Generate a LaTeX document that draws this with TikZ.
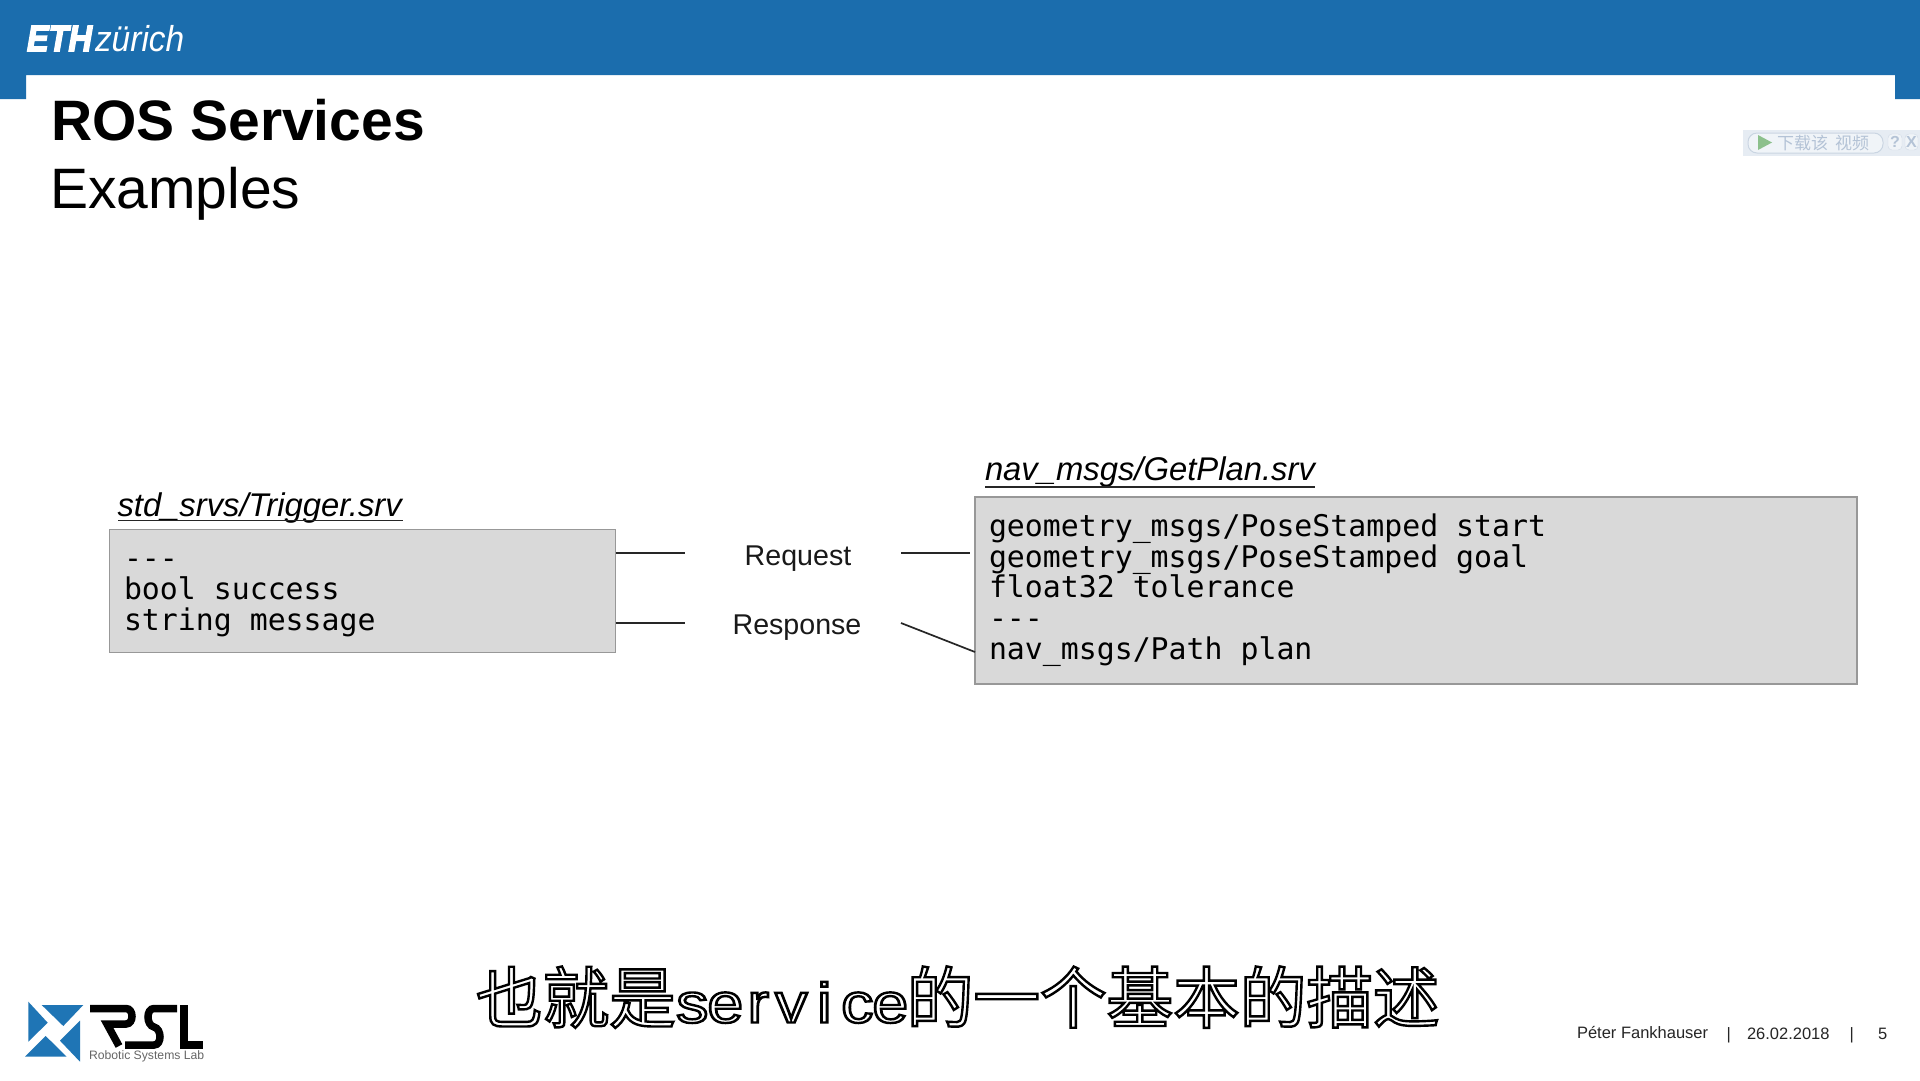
\documentclass[tikz,border=0pt]{standalone}
\usepackage{fontspec}
\setmainfont{Liberation Sans}
\newfontfamily\cjk{Noto Sans CJK SC}
\newfontfamily\mono{DejaVu Sans Mono}
\definecolor{ethblue}{HTML}{1B6DAD}
\definecolor{boxgray}{HTML}{D9D9D9}
\definecolor{boxedge}{HTML}{989898}
\definecolor{wmbg}{HTML}{E6ECF3}
\definecolor{wmtext}{HTML}{B4C3D6}
\definecolor{rslblue}{HTML}{1F75B5}
\newcommand{\fsz}[1]{\fontsize{#1}{#1}\selectfont}
\newcommand{\outl}[1]{\special{pdf:code q 2 Tr 2.4 w 0 0 0 RG 1 1 1 rg}#1\special{pdf:code Q}}
\newcommand{\hw}[1]{\makebox[33pt]{\scalebox{1.15}[1]{\normalfont\fsz{56}\outl{#1}}}}
\newcommand{\heavy}[1]{\special{pdf:code q 2 Tr 1.6 w 1 1 1 RG 1 1 1 rg}#1\special{pdf:code Q}}
\tikzset{
  txt/.style={inner sep=0pt,outer sep=0pt,anchor=base west},
  srvbox/.style={draw=boxedge,line width=1.8pt,fill=boxgray,inner sep=0pt,outer sep=0pt,anchor=north west},
  code/.style={txt,font=\mono\fsz{29.85}},
  srvtitle/.style={txt,font=\itshape\fsz{32.8}},
  link/.style={draw=black!85,line width=1.7pt},
  ul/.style={draw=black!85,line width=1.9pt},
  label/.style={inner sep=0pt,outer sep=0pt,anchor=base,font=\fsz{28.6},text=black!90},
  foot/.style={txt,font=\fsz{16.5},text=black!85},
  logotri/.style={fill=rslblue,draw=none},
  rsl/.style={draw=black,line width=7.5pt,line join=miter}
}
\begin{document}
\begin{tikzpicture}[x=1pt,y=-1pt]
\useasboundingbox (0,0) rectangle (1920,1080);
\fill[white] (0,0) rectangle (1920,1080);
% header band
\fill[ethblue] (0,0) -- (1920,0) -- (1920,99) -- (1895,99) -- (1895,75) -- (26,75) -- (26,99) -- (0,99) -- cycle;
\node[txt,text=white,font=\bfseries\itshape\fsz{36.5},xscale=.89] (eth) at (27,51) {\heavy{ETH}};
\node[txt,text=white,font=\itshape\fsz{36},xscale=.93] (zur) at (95,51) {zürich};
% titles
\node[txt,font=\bfseries\fsz{57}] (title) at (51,140) {ROS Services};
\node[txt,font=\fsz{57}] (sub) at (50,208.5) {Examples};
% download widget
\fill[wmbg] (1743,130) rectangle (1920,156);
\draw[wmtext!70,fill=wmbg!60!white,line width=1pt,rounded corners=9pt] (1748,133) rectangle (1883,153);
\fill[green!45!black!45] (1758,135) -- (1772,142.5) -- (1758,150) -- cycle;
\node[txt,text=wmtext,font=\cjk\fsz{17}] (wm) at (1777,149.5) {下载该\hspace{7pt}视频};
\draw[wmtext!60,fill=wmbg!60!white,rounded corners=4pt] (1888,134) rectangle (1902,150);
\draw[wmtext!60,fill=wmbg!60!white,rounded corners=4pt] (1905,134) rectangle (1918,150);
\node[text=wmtext,inner sep=0pt,font=\bfseries\fsz{16}] (wmq) at (1895,142) {?};
\node[text=wmtext,inner sep=0pt,font=\bfseries\fsz{16}] (wmx) at (1911.5,142) {X};
% service titles
\node[srvtitle] (ltitle) at (117.5,516) {std\_srvs/Trigger.srv};
\draw[ul] (118,520.5) -- (403,520.5);
\node[srvtitle] (rtitle) at (985,480.5) {nav\_msgs/GetPlan.srv};
\draw[ul] (985,487) -- (1315,487);
% boxes
\node[srvbox,minimum width=506pt,minimum height=123pt] (lbox) at (109.5,529.5) {};
\node[srvbox,minimum width=882pt,minimum height=187pt] (rbox) at (975,497) {};
% box text
\node[code] (l1) at (124,568) {-{}-{}-};
\node[code] (l2) at (124,599) {bool success};
\node[code] (l3) at (124,630) {string message};
\node[code] (r1) at (989,536) {geometry\_msgs/PoseStamped start};
\node[code] (r2) at (989,567) {geometry\_msgs/PoseStamped goal};
\node[code] (r3) at (989,597.5) {float32 tolerance};
\node[code] (r4) at (989,628) {-{}-{}-};
\node[code] (r5) at (989,659) {nav\_msgs/Path plan};
% labels
\node[label] (req) at (798,565) {Request};
\node[label] (res) at (797,634.5) {Response};
% connectors
\coordinate (a1) at (lbox.east |- 0,553);
\coordinate (a2) at (685,553);
\coordinate (a3) at (901,553);
\coordinate (a4) at (970,553);
\coordinate (b1) at (lbox.east |- 0,623);
\coordinate (b2) at (685,623);
\coordinate (b3) at (901,623);
\coordinate (b4) at (975,652);
\draw[link] (a1) -- (a2);
\draw[link] (a3) -- (a4);
\draw[link] (b1) -- (b2);
\draw[link] (b3) -- (b4);
% RSL logo
\fill[logotri] (41.7,1005) -- (83.3,1005) -- (63.3,1026) -- cycle;
\fill[logotri] (28.3,1001.7) -- (28.3,1041.7) -- (47.7,1022.7) -- cycle;
\fill[logotri] (25,1056.7) -- (66.7,1056.7) -- (45.7,1036) -- cycle;
\fill[logotri] (80,1020.7) -- (80,1061.7) -- (60,1040.7) -- cycle;
\draw[rsl] (90,1008.5) -- (126,1008.5) .. controls (134,1008.5) and (134,1024) .. (126,1024) -- (107,1024) -- (119,1046);
\draw[rsl] (125,1045) -- (154,1045) .. controls (162,1045) and (162,1029) .. (154,1027) .. controls (146,1025) and (146,1008.5) .. (154,1008.5) -- (177,1008.5);
\draw[rsl] (184,1005) -- (184,1045) -- (203,1045);
\node[txt,text=black!60,font=\fsz{12.2}] (lab) at (89,1059) {Robotic Systems Lab};
% subtitle
\node[txt,font=\cjk\fsz{66.6}] (cap) at (476,1022.5) {\outl{也就是}\hw{s}\hw{e}\hw{r}\hw{v}\hw{i}\hw{c}\hw{e}\outl{的一个基本的描述}};
% footer
\node[foot] (f1) at (1577,1038) {Péter Fankhauser};
\node[foot] (f2) at (1726.5,1039) {|};
\node[foot] (f3) at (1747,1039) {26.02.2018};
\node[foot] (f4) at (1849.5,1039) {|};
\node[foot] (f5) at (1878,1039) {5};
\end{tikzpicture}
\end{document}
